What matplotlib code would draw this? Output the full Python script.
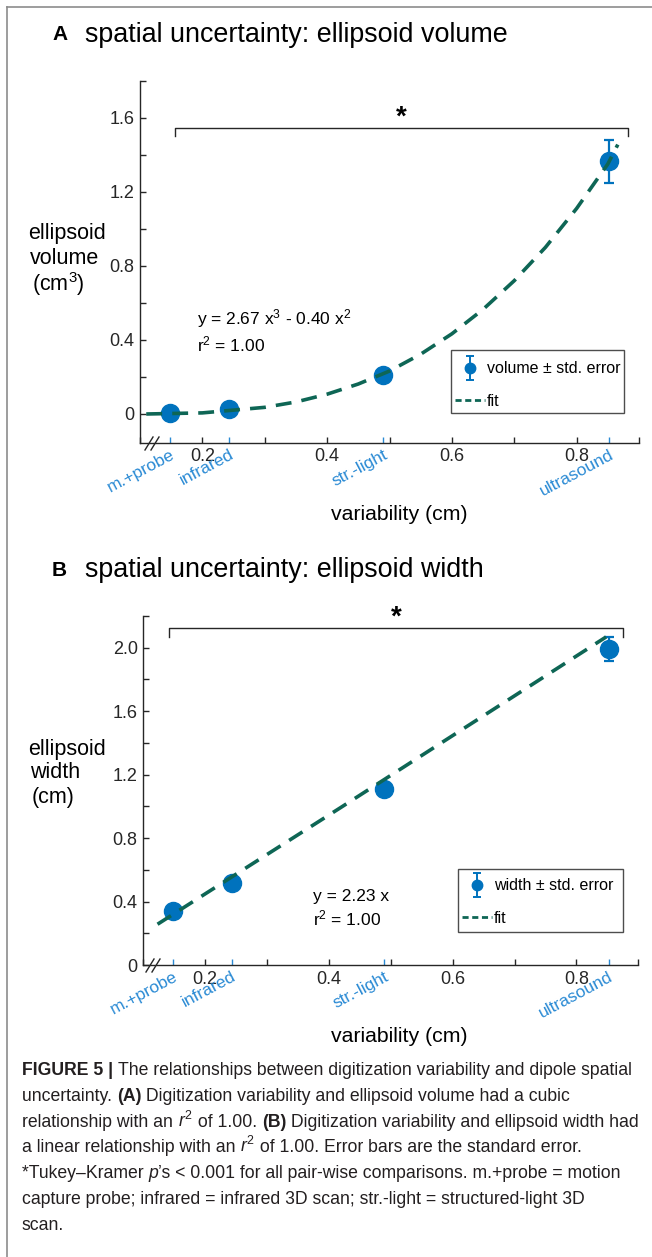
import matplotlib.pyplot as plt
from matplotlib.lines import Line2D
from matplotlib.patches import Rectangle
from matplotlib.legend_handler import HandlerErrorbar
import numpy as np

plt.rcParams['font.family'] = ['Liberation Sans', 'DejaVu Sans']
plt.rcParams['mathtext.fontset'] = 'custom'
plt.rcParams['mathtext.rm'] = 'Liberation Sans'
plt.rcParams['mathtext.it'] = 'Liberation Sans:italic'
plt.rcParams['mathtext.bf'] = 'Liberation Sans:bold'

# data
cats = ['m.+probe', 'infrared', 'str.-light', 'ultrasound']
var_x = [0.148, 0.243, 0.489, 0.852]
vol = [0.005, 0.027, 0.21, 1.364]
vol_err = [0.004, 0.006, 0.012, 0.114]
wid = [0.341, 0.516, 1.112, 1.994]
wid_err = [0.01, 0.012, 0.026, 0.075]

fit_vol_x = [0.11, 0.2, 0.3, 0.35, 0.4, 0.45, 0.5, 0.55, 0.6, 0.65, 0.7, 0.75, 0.8, 0.85, 0.866]
fit_vol_y = [0.0, 0.006, 0.036, 0.065, 0.107, 0.162, 0.232, 0.323, 0.433, 0.565, 0.72, 0.9, 1.11, 1.35, 1.455]
fit_wid_x = [0.123, 0.418, 0.848]
fit_wid_y = [0.257, 0.99, 2.068]

xticks = [0.1, 0.2, 0.3, 0.4, 0.5, 0.6, 0.7, 0.8, 0.9]
xticklabels = ['', '0.2', '', '0.4', '', '0.6', '', '0.8', '']
yticks_a = [0, 0.2, 0.4, 0.6, 0.8, 1.0, 1.2, 1.4, 1.6, 1.8]
yticklabels_a = ['0', '', '0.4', '', '0.8', '', '1.2', '', '1.6', '']
yticks_b = [0, 0.2, 0.4, 0.6, 0.8, 1.0, 1.2, 1.4, 1.6, 1.8, 2.0, 2.2]
yticklabels_b = ['0', '', '0.4', '', '0.8', '', '1.2', '', '1.6', '', '2.0', '']

W, H = 652, 1257
BLUE = '#0072BD'
CATBLUE = '#2a8ad4'
GREEN = '#0e6655'
DARK = '#262626'

fig = plt.figure(figsize=(W / 100, H / 100), dpi=100)


def fx(x):
    return x / W


def fy(y):
    return 1 - y / H


def panel(box, y, err, fx_, fy_, yt, ytl, ylim, label, bracket, eq, eqpos, legbox, legrow, breakpos):
    l, t, r, b = box
    ax = fig.add_axes([fx(l), fy(b), fx(r) - fx(l), fy(t) - fy(b)])
    ax.errorbar(var_x, y, yerr=err, fmt='o', color=BLUE, ms=13, elinewidth=1.6,
                capsize=3.5, capthick=1.6, zorder=3)
    ax.plot(fx_, fy_, color=GREEN, lw=2.6, dashes=(4.4, 2.8), zorder=4)
    ax.set_xlim(0.1, 0.9)
    ax.set_ylim(*ylim)
    for s in ['top', 'right']:
        ax.spines[s].set_visible(False)
    for s in ['left', 'bottom']:
        ax.spines[s].set_color(DARK)
        ax.spines[s].set_linewidth(1.0)
    ax.set_xticks(xticks)
    ax.set_xticklabels(xticklabels)
    ax.set_yticks(yt)
    ax.set_yticklabels(ytl)
    ax.tick_params(direction='in', length=4, width=1.0, color=DARK, labelcolor=DARK,
                   labelsize=13, pad=4)
    ax.set_xticks(var_x, minor=True)
    ax.set_xticklabels(cats, minor=True, rotation=28, ha='right', va='top',
                       rotation_mode='anchor')
    ax.tick_params(axis='x', which='minor', direction='in', length=4, width=1.0,
                   color=CATBLUE, labelcolor=CATBLUE, labelsize=12.5, pad=3)
    ax.patch.set_alpha(0)

    # significance bracket
    bx0, bx1, by, bdrop = bracket
    ax.plot([bx0, bx0, bx1, bx1], [bdrop, by, by, bdrop], color=DARK, lw=1.0, clip_on=False)
    ax.text((bx0 + bx1) / 2, by - (ylim[1] - ylim[0]) * 0.008, '*', ha='center', va='bottom',
            fontsize=20, fontweight='bold', color='black')

    # equation
    fig.text(fx(eqpos[0]), fy(eqpos[1]), eq, fontsize=12.5, color='black', va='center',
             linespacing=1.25)

    # legend: entries without frame, box drawn separately
    proxy = ax.errorbar([np.nan], [np.nan], yerr=[np.nan], fmt='o', color=BLUE, ms=7.5,
                        elinewidth=1.4, capsize=3, capthick=1.4)
    fitproxy = Line2D([], [], color=GREEN, lw=2.0, dashes=(2.2, 1.3))
    ax.legend([proxy, fitproxy], [label, 'fit'], loc='center left', frameon=False,
              bbox_to_anchor=(fx(legrow[0]), fy(legrow[1])), bbox_transform=fig.transFigure,
              borderaxespad=0, borderpad=0, handlelength=1.88, handletextpad=0.13,
              labelspacing=1.1, fontsize=11.5,
              handler_map={type(proxy): HandlerErrorbar(yerr_size=0.75, numpoints=1)})
    x0, y0, x1, y1 = legbox
    fig.add_artist(Rectangle((fx(x0), fy(y1)), fx(x1) - fx(x0), fy(y0) - fy(y1),
                             transform=fig.transFigure, fill=False, edgecolor='#4d4d4d', lw=1.0))

    # axis break marks
    bxp, byp = breakpos
    for dx in (0, 6):
        fig.add_artist(Line2D([fx(bxp + dx), fx(bxp + dx + 8)], [fy(byp + 7), fy(byp - 6)],
                              color=DARK, lw=1.0))
    return ax


ax1 = panel((140, 80.7, 639, 442.7), vol, vol_err, fit_vol_x, fit_vol_y, yticks_a, yticklabels_a,
            (-0.155, 1.8), 'volume \u00b1 std. error', (0.156, 0.882, 1.547, 1.5),
            'y = 2.67 x$^3$ - 0.40 x$^2$\nr$^2$ = 1.00', (197, 331),
            (451, 350, 624, 413), (455, 385), (145, 443))
ax2 = panel((143.3, 616, 638.3, 965), wid, wid_err, fit_wid_x, fit_wid_y, yticks_b, yticklabels_b,
            (0, 2.2), 'width \u00b1 std. error', (0.142, 0.876, 2.126, 2.07),
            'y = 2.23 x\nr$^2$ = 1.00', (313, 909),
            (457.7, 869.3, 623.3, 932.3), (461.7, 902), (146, 965))

# titles
for ty, letter, title in [(35, 'A', 'spatial uncertainty: ellipsoid volume'),
                          (570, 'B', 'spatial uncertainty: ellipsoid width')]:
    fig.text(fx(52), fy(ty), letter, fontsize=15, fontweight='bold', va='center', color='black')
    fig.text(fx(85), fy(ty), title, fontsize=19.4, va='center', color='black')

# y labels
fig.text(fx(28), fy(234), 'ellipsoid', fontsize=15.5, va='center', ha='left', color='black')
fig.text(fx(30), fy(258), 'volume', fontsize=15.5, va='center', ha='left', color='black')
fig.text(fx(32), fy(284), '(cm$^3$)', fontsize=15.5, va='center', ha='left', color='black')
fig.text(fx(28), fy(749), 'ellipsoid', fontsize=15.5, va='center', ha='left', color='black')
fig.text(fx(30), fy(773), 'width', fontsize=15.5, va='center', ha='left', color='black')
fig.text(fx(32), fy(797), '(cm)', fontsize=15.5, va='center', ha='left', color='black')

# x labels
for yy in (515, 1037):
    fig.text(fx(399), fy(yy), 'variability (cm)', fontsize=15.3, ha='center', va='center',
             color='black')

# figure frame
fig.add_artist(Line2D([fx(7), fx(7)], [fy(7), 0], color='#8c8c8c', lw=1.2))
fig.add_artist(Line2D([fx(7), 1], [fy(7), fy(7)], color='#8c8c8c', lw=1.2))

# caption
CAP = '#231f20'
caption = [
    [('FIGURE 5 | ', 'bold', 'normal'),
     ('The relationships between digitization variability and dipole spatial', 'normal', 'normal')],
    [('uncertainty. ', 'normal', 'normal'), ('(A)', 'bold', 'normal'),
     (' Digitization variability and ellipsoid volume had a cubic', 'normal', 'normal')],
    [('relationship with an ', 'normal', 'normal'), ('$r^2$', 'normal', 'italic'),
     (' of 1.00. ', 'normal', 'normal'), ('(B)', 'bold', 'normal'),
     (' Digitization variability and ellipsoid width had', 'normal', 'normal')],
    [('a linear relationship with an ', 'normal', 'normal'), ('$r^2$', 'normal', 'italic'),
     (' of 1.00. Error bars are the standard error.', 'normal', 'normal')],
    [('*Tukey\u2013Kramer ', 'normal', 'normal'), ('p', 'normal', 'italic'),
     ('\u2019s < 0.001 for all pair-wise comparisons. m.+probe = motion', 'normal', 'normal')],
    [('capture probe; infrared = infrared 3D scan; str.-light = structured-light 3D', 'normal', 'normal')],
    [('scan.', 'normal', 'normal')],
]
renderer = fig.canvas.get_renderer()
for i, parts in enumerate(caption):
    x = 22
    base = 1075 + i * 25.8
    for s, w, st in parts:
        t = fig.text(fx(x), fy(base), s, fontsize=12.7, fontweight=w, fontstyle=st,
                     va='baseline', color=CAP)
        x = t.get_window_extent(renderer=renderer).x1

fig.savefig('out.png', dpi=100)
